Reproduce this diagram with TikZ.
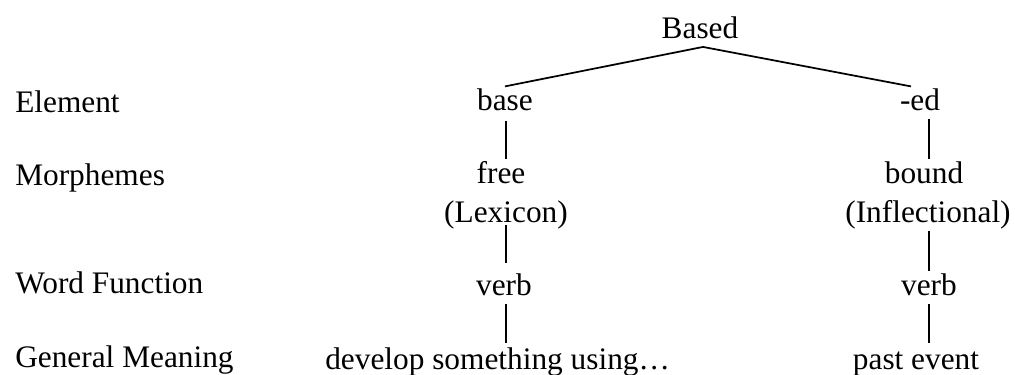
\documentclass[tikz,border=0pt]{standalone}
\usepackage{fontspec}
\setmainfont{Liberation Serif}
\begin{document}
\begin{tikzpicture}[x=0.75pt, y=-0.75pt,
   txt/.style={inner sep=1.5pt, text height=16pt, text depth=5pt, anchor=base},
   font=\fontsize{23.5}{27}\selectfont]
   \useasboundingbox (0,0) rectangle (1015,375);
   % row labels
   \node[txt, anchor=base west] (rowel) at (13,112) {Element};
   \node[txt, anchor=base west] (rowmo) at (13,185) {Morphemes};
   \node[txt, anchor=base west] (rowwf) at (13,293) {Word Function};
   \node[txt, anchor=base west] (rowgm) at (13,367) {General Meaning};
   % tree
   \node[txt] (based) at (700,38) {Based};
   \node[txt] (base) at (505,110) {base};
   \node[txt] (ed) at (920,110) {-ed};
   \node[txt] (free) at (501,183) {free};
   \node[txt] (lex) at (506,222) {(Lexicon)};
   \node[txt] (bound) at (924,183) {bound};
   \node[txt] (infl) at (928,222) {(Inflectional)};
   \node[txt] (verbl) at (504,295) {verb};
   \node[txt] (verbr) at (929,295) {verb};
   \node[txt, anchor=base west] (meanl) at (323,369) {develop something using…};
   \node[txt] (meanr) at (916,369) {past event};
   \draw[line width=1.3pt] ([xshift=2.25pt]based.south) -- (base.north);
   \draw[line width=1.3pt] ([xshift=2.25pt]based.south) -- ([xshift=-6.75pt]ed.north);
   \draw[line width=1.3pt] ([yshift=-1.5pt]base.south -| lex.south) -- (free.north -| lex.south);
   \draw[line width=1.3pt] ([yshift=4.5pt]lex.south) -- ([yshift=6pt]verbl.north -| lex.south);
   \draw[line width=1.3pt] (verbl.south -| lex.south) -- ([yshift=1.5pt]meanl.north -| lex.south);
   \draw[line width=1.3pt] (ed.south -| verbr) -- (bound.north -| verbr);
   \draw[line width=1.3pt] (infl.south -| verbr) -- (verbr.north);
   \draw[line width=1.3pt] (verbr.south) -- ([yshift=1.5pt]meanr.north -| verbr);
\end{tikzpicture}
\end{document}
